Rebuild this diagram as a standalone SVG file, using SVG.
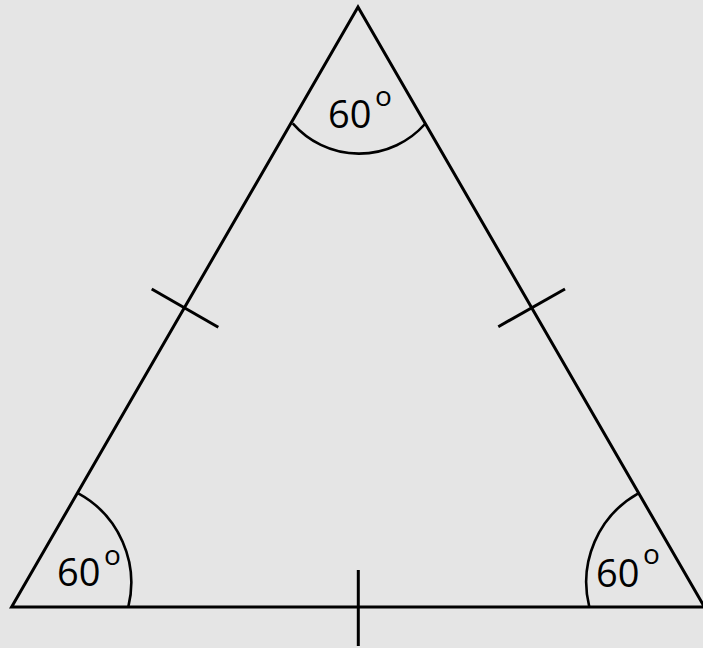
<svg xmlns="http://www.w3.org/2000/svg" width="703" height="648" viewBox="0 0 703 648">
<style>
.ln{stroke:#000;stroke-width:3;fill:none;stroke-linecap:butt;stroke-linejoin:miter}
.arc{stroke:#000;stroke-width:2.6;fill:none}
.num{font-family:"Open Sans","Noto Sans","Liberation Sans",sans-serif;font-size:38px;fill:#000}
.deg{font-family:"Open Sans","Noto Sans","Liberation Sans",sans-serif;font-size:28px;fill:#000}
</style>
<rect width="703" height="648" fill="#e5e5e5"/>
<g id="triangle">
<path class="ln" d="M358 7 L11.6 607 L704.4 607 Z"/>
</g>
<g id="connectors">
<line class="ln" x1="151.7" y1="289" x2="218.3" y2="327.3"/>
<line class="ln" x1="498.3" y1="326.7" x2="565" y2="289"/>
<line class="ln" x1="358.3" y1="570" x2="358.3" y2="646"/>
</g>
<g id="angle-top">
<path class="arc" d="M292.7 123.3 A88 88 0 0 0 425 124"/>
<text class="num" x="328" y="128">60</text>
<text class="deg" x="375" y="106">o</text>
</g>
<g id="angle-left">
<path class="arc" d="M78.3 493.3 A102 102 0 0 1 128.3 607"/>
<text class="num" x="57" y="586">60</text>
<text class="deg" x="104" y="565">o</text>
</g>
<g id="angle-right">
<path class="arc" d="M638.3 493.3 A102 102 0 0 0 589.3 607"/>
<text class="num" x="596" y="586.5">60</text>
<text class="deg" x="643" y="564">o</text>
</g>
</svg>
